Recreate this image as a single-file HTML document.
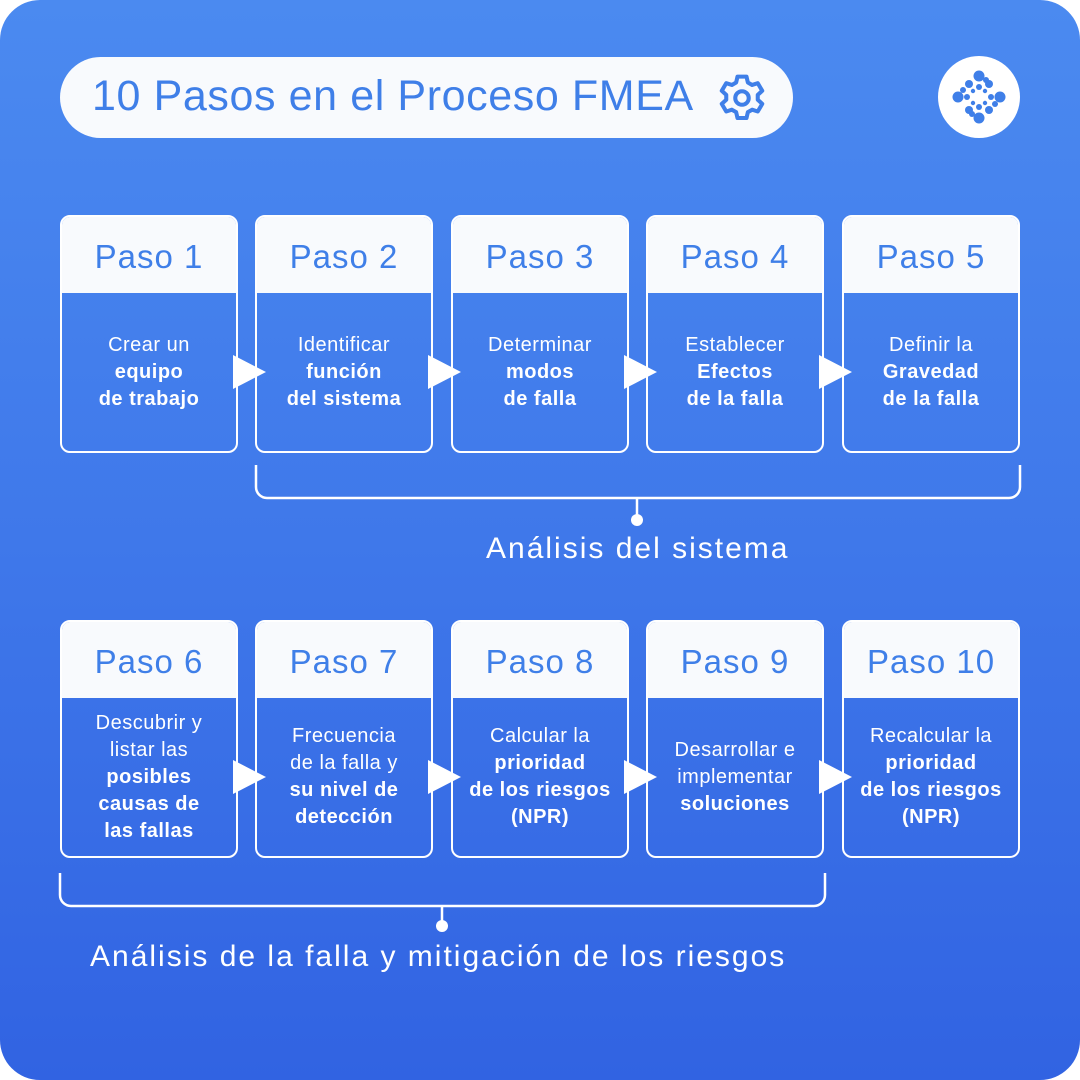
<!DOCTYPE html>
<html><head><meta charset="utf-8"><style>
*{margin:0;padding:0;box-sizing:border-box}
body{width:1080px;height:1080px;background:#fff;font-family:"Liberation Sans","DejaVu Sans",sans-serif;overflow:hidden}
#bg{position:absolute;left:0;top:0;width:1080px;height:1080px;border-radius:40px;background:linear-gradient(180deg,#4b8af0 0%,#3f78ea 50%,#3163e2 100%)}
.pill{position:absolute;left:60px;top:57px;width:733px;height:81px;border-radius:41px;background:#f8fafd}
.pill span{position:absolute;left:32px;top:15px;font-size:43px;color:#3f7fe8;white-space:nowrap;letter-spacing:0.6px}
.logo{position:absolute;left:938px;top:56px;width:82px;height:82px;border-radius:50%;background:#fff}
.card{position:absolute;width:178px;height:238px;border:2px solid #fff;border-radius:10px;overflow:hidden}
.card .h{height:76px;background:#f8fafd;color:#3f7fe8;font-size:33px;text-align:center;line-height:80px;letter-spacing:1px}
.card .b{position:absolute;left:0;right:0;top:76px;bottom:0;display:flex;align-items:center;justify-content:center;text-align:center;color:#fff;font-size:20px;line-height:27px;letter-spacing:.5px}
.card b{font-weight:bold}
.arr{position:absolute;width:0;height:0;border-top:17px solid transparent;border-bottom:17px solid transparent;border-left:33px solid #fff}
.lbl{position:absolute;color:#fff;font-size:30px;white-space:nowrap;letter-spacing:2px}
</style></head><body>
<div id="bg"></div>
<div class="pill"><span>10 Pasos en el Proceso FMEA</span>
<svg style="position:absolute;left:655px;top:14px" width="54" height="54" viewBox="0 0 24 24" fill="none" stroke="#3f7fe8" stroke-width="1.8" stroke-linejoin="round"><path d="M10 2.5h4l.6 2.6 1.9 1.1 2.5-.8 2 3.4-2 1.8v2.2l2 1.8-2 3.4-2.5-.8-1.9 1.1-.6 2.6h-4l-.6-2.6-1.9-1.1-2.5.8-2-3.4 2-1.8v-2.2l-2-1.8 2-3.4 2.5.8 1.9-1.1z"/><circle cx="12" cy="12" r="3"/></svg>
</div>
<div class="logo"><svg width="82" height="82" viewBox="0 0 82 82" fill="#3f7fe8">
<circle cx="41" cy="20" r="5.5"/><circle cx="41" cy="62" r="5.5"/><circle cx="20" cy="41" r="5.5"/><circle cx="62" cy="41" r="5.5"/>
<circle cx="31" cy="28" r="4"/><circle cx="51" cy="28" r="4"/><circle cx="31" cy="54" r="4"/><circle cx="51" cy="54" r="4"/>
<circle cx="41" cy="31" r="3"/><circle cx="41" cy="51" r="3"/><circle cx="29" cy="41" r="3"/><circle cx="53" cy="41" r="3"/>
<circle cx="35" cy="35" r="2.2"/><circle cx="47" cy="35" r="2.2"/><circle cx="35" cy="47" r="2.2"/><circle cx="47" cy="47" r="2.2"/>
<circle cx="25" cy="34" r="3"/><circle cx="57" cy="48" r="3"/><circle cx="48" cy="24" r="3"/><circle cx="34" cy="58" r="3"/>
</svg></div>

<div class="card" style="left:60px;top:215px"><div class="h">Paso 1</div><div class="b"><div>Crear un<br><b>equipo<br>de trabajo</b></div></div></div>
<div class="card" style="left:255px;top:215px"><div class="h">Paso 2</div><div class="b"><div>Identificar<br><b>función<br>del sistema</b></div></div></div>
<div class="card" style="left:451px;top:215px"><div class="h">Paso 3</div><div class="b"><div>Determinar<br><b>modos<br>de falla</b></div></div></div>
<div class="card" style="left:646px;top:215px"><div class="h">Paso 4</div><div class="b"><div>Establecer<br><b>Efectos<br>de la falla</b></div></div></div>
<div class="card" style="left:842px;top:215px"><div class="h">Paso 5</div><div class="b"><div>Definir la<br><b>Gravedad<br>de la falla</b></div></div></div>

<div class="arr" style="left:233px;top:355px"></div>
<div class="arr" style="left:428px;top:355px"></div>
<div class="arr" style="left:624px;top:355px"></div>
<div class="arr" style="left:819px;top:355px"></div>

<div class="card" style="left:60px;top:620px"><div class="h">Paso 6</div><div class="b"><div>Descubrir y<br>listar las<br><b>posibles<br>causas de<br>las fallas</b></div></div></div>
<div class="card" style="left:255px;top:620px"><div class="h">Paso 7</div><div class="b"><div>Frecuencia<br>de la falla y<br><b>su nivel de<br>detección</b></div></div></div>
<div class="card" style="left:451px;top:620px"><div class="h">Paso 8</div><div class="b"><div>Calcular la<br><b>prioridad<br>de los riesgos<br>(NPR)</b></div></div></div>
<div class="card" style="left:646px;top:620px"><div class="h">Paso 9</div><div class="b"><div>Desarrollar e<br>implementar<br><b>soluciones</b></div></div></div>
<div class="card" style="left:842px;top:620px"><div class="h">Paso 10</div><div class="b"><div>Recalcular la<br><b>prioridad<br>de los riesgos<br>(NPR)</b></div></div></div>

<div class="arr" style="left:233px;top:760px"></div>
<div class="arr" style="left:428px;top:760px"></div>
<div class="arr" style="left:624px;top:760px"></div>
<div class="arr" style="left:819px;top:760px"></div>

<svg style="position:absolute;left:0;top:0" width="1080" height="1080" fill="none" stroke="#fff" stroke-width="2.5">
<path d="M256 465v22a11 11 0 0 0 11 11h742a11 11 0 0 0 11-11v-22"/>
<path d="M637 498v20"/><circle cx="637" cy="520" r="6" fill="#fff" stroke="none"/>
<path d="M60 873v22a11 11 0 0 0 11 11h743a11 11 0 0 0 11-11v-22"/>
<path d="M442 906v20"/><circle cx="442" cy="926" r="6" fill="#fff" stroke="none"/>
</svg>

<div class="lbl" style="left:486px;top:532px">Análisis del sistema</div>
<div class="lbl" style="left:90px;top:940px">Análisis de la falla y mitigación de los riesgos</div>
</body></html>
